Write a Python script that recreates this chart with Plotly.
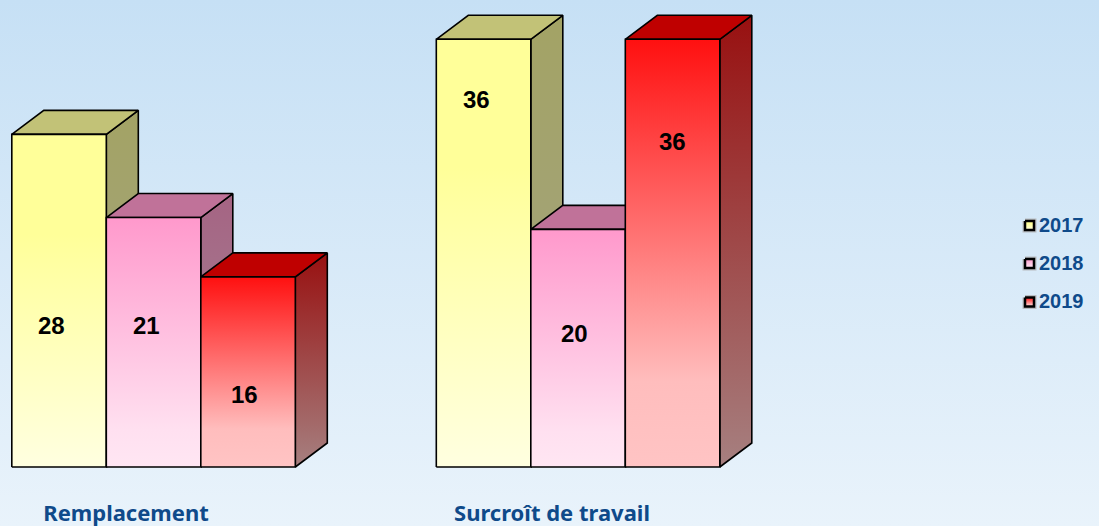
import plotly.graph_objects as go

# ---- data
categories = ["Remplacement", "Surcroît de travail"]
years = ["2017", "2018", "2019"]
v2017 = [28, 36]
v2018 = [21, 20]
v2019 = [16, 36]

# ---- styles / geometry
W, H = 1099, 526
BASE_PX = 467            # pixel row of value 0
PX_PER_VAL = 11.88
X0_PX = 126.0            # pixel column of first category label
PX_PER_CAT = 426.0
GROUP_STEP = 424.5 / PX_PER_CAT
BAR_W = 94.5 / PX_PER_CAT
BAR_START = (11.8 - X0_PX) / PX_PER_CAT
DX = 32 / PX_PER_CAT
DY = 24 / PX_PER_VAL

front_scales = {
    "2017": [[0, "#FFFFE0"], [0.7, "#FFFF99"], [1, "#FFFF99"]],
    "2018": [[0, "#FFE6F3"], [0.15, "#FFE0F0"], [1, "#FF99CC"]],
    "2019": [[0, "#FFC4C4"], [0.2, "#FFBDBD"], [1, "#FF1010"]],
}
side_scales = {
    "2017": [[0, "#A3A384"], [1, "#A3A365"]],
    "2018": [[0, "#A58A98"], [1, "#A56483"]],
    "2019": [[0, "#A68080"], [1, "#981010"]],
}
top_colors = {"2017": "#C2C277", "2018": "#C07299", "2019": "#BF0000"}
label_shift = {  # manual label offsets in the reference (px right, px down from face centre)
    "2017": [(-8, 25), (-7, -154)],
    "2018": [(-7, -17), (-4, -15)],
    "2019": [(-4, 23), (0, -112)],
}
swatch_y = {"2017": 225, "2018": 263, "2019": 301.5}

series = {"2017": v2017, "2018": v2018, "2019": v2019}
x_range = [-X0_PX / PX_PER_CAT, (W - X0_PX) / PX_PER_CAT]
y_range = [-(H - BASE_PX) / PX_PER_VAL, BASE_PX / PX_PER_VAL]

fig = go.Figure()

# page background
fig.add_trace(go.Scatter(
    x=[x_range[0], x_range[1], x_range[1], x_range[0], x_range[0]],
    y=[y_range[0], y_range[0], y_range[1], y_range[1], y_range[0]],
    mode="none", fill="toself", hoverinfo="skip", showlegend=False,
    fillgradient=dict(type="vertical",
                      colorscale=[[0, "#E9F3FB"], [1, "#C6E0F5"]]),
))


def face(xs, ys, fillcolor=None, scale=None):
    kw = {}
    if scale is not None:
        kw["fillgradient"] = dict(type="vertical", colorscale=scale)
    else:
        kw["fillcolor"] = fillcolor
    fig.add_trace(go.Scatter(
        x=xs + xs[:1], y=ys + ys[:1], mode="lines", fill="toself",
        line=dict(color="#000000", width=1.6), hoverinfo="skip",
        showlegend=False, **kw))


annotations = []
for c in range(len(categories)):
    for i, year in enumerate(years):
        v = series[year][c]
        x0 = c * GROUP_STEP + BAR_START + i * BAR_W
        x1 = x0 + BAR_W
        # side, top, then front
        face([x1, x1 + DX, x1 + DX, x1], [0, DY, v + DY, v], scale=side_scales[year])
        face([x0, x0 + DX, x1 + DX, x1], [v, v + DY, v + DY, v], fillcolor=top_colors[year])
        face([x0, x1, x1, x0], [0, 0, v, v], scale=front_scales[year])
        sx, sy = label_shift[year][c]
        annotations.append(dict(
            x=(x0 + x1) / 2, y=v / 2, xref="x", yref="y", text=str(v),
            showarrow=False, xshift=sx, yshift=-sy,
            font=dict(family="Liberation Sans", size=24, color="#000000", weight=700)))

# legend: real legend for the text, gradient keys drawn on a pixel overlay
for year in years:
    fig.add_trace(go.Scatter(
        x=[None], y=[None], mode="markers", name=year, legendgroup=year,
        marker=dict(size=1, opacity=0, color="rgba(0,0,0,0)"), showlegend=True))
    y = swatch_y[year]
    box_x = [1025, 1034, 1034, 1025, 1025]
    box_y = [y - 4, y - 4, y + 5, y + 5, y - 4]
    fig.add_trace(go.Scatter(
        x=box_x, y=box_y, xaxis="x2", yaxis="y2", mode="lines",
        line=dict(color="#B8BCC0", width=5), hoverinfo="skip", showlegend=False))
    fig.add_trace(go.Scatter(
        x=box_x, y=box_y, xaxis="x2", yaxis="y2", mode="lines", fill="toself",
        line=dict(color="#000000", width=2.5), hoverinfo="skip", showlegend=False,
        fillgradient=dict(type="vertical", colorscale=front_scales[year])))

fig.update_layout(
    width=W, height=H, autosize=False,
    margin=dict(l=0, r=0, t=0, b=0, pad=0, autoexpand=False),
    paper_bgcolor="#D8E9F8", plot_bgcolor="rgba(0,0,0,0)",
    hovermode=False,
    annotations=annotations,
    xaxis=dict(range=x_range, domain=[0, 1], anchor="free", position=(H - BASE_PX) / H,
               automargin=False,
               tickmode="array", tickvals=list(range(len(categories))), ticktext=categories,
               ticklen=0, ticklabelstandoff=31, showgrid=False, zeroline=False, showline=False,
               tickfont=dict(family="Noto Sans", size=22, color="#0F4A8A", weight=700),
               fixedrange=True),
    yaxis=dict(range=y_range, domain=[0, 1], visible=False, automargin=False, fixedrange=True),
    xaxis2=dict(range=[0, W], domain=[0, 1], overlaying="x", visible=False, anchor="y2", fixedrange=True),
    yaxis2=dict(range=[H, 0], domain=[0, 1], overlaying="y", visible=False, anchor="x2", fixedrange=True),
    legend=dict(x=999 / W, xanchor="left", y=1 - 205 / H, yanchor="top",
                bgcolor="rgba(0,0,0,0)", borderwidth=0, traceorder="grouped",
                tracegroupgap=9, itemclick=False, itemdoubleclick=False,
                font=dict(family="Liberation Sans", size=20, color="#0F4A8A", weight=700)),
)

fig.write_html("out.html", config={"displayModeBar": False},
               post_script="document.body.style.margin='0';document.body.style.overflow='hidden';")
